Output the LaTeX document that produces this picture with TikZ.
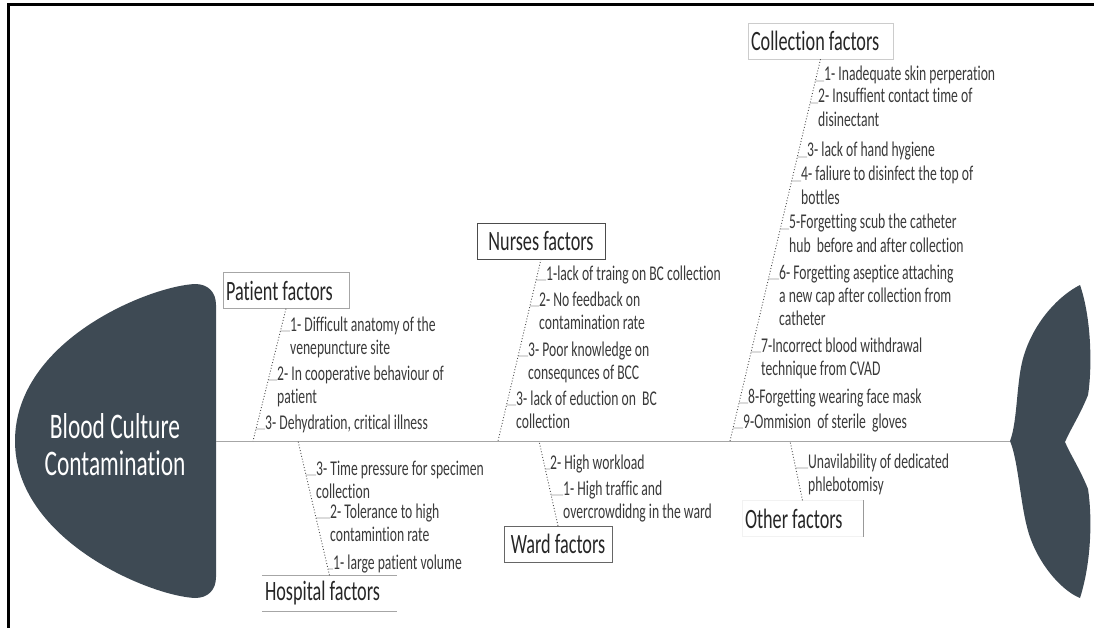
\documentclass[tikz,border=0pt]{standalone}
\usepackage{fontspec}
\setmainfont[FakeStretch=0.65, Ligatures=NoCommon]{Carlito}

\definecolor{fishdark}{HTML}{3E4A54}
\definecolor{inkgray}{HTML}{3A3A3A}
\newcommand{\causelines}[1]{\begin{tabular}[t]{@{}l@{}}#1\end{tabular}}

\begin{document}
\begin{tikzpicture}[
    x=1pt, y=-1pt,
    catbox/.style={draw=gray!70, fill=white, text=black!85, inner xsep=3pt, inner ysep=0pt, minimum height=36pt, font=\fontsize{28}{30}\selectfont},
    item/.style={anchor=base west, inner sep=0pt, text=inkgray, font=\fontsize{21}{23.5}\selectfont},
    bone/.style={dotted, line width=0.9pt, black!70},
    tick/.style={line width=0.6pt, gray!80},
    spine/.style={line width=1pt, gray!70}
]
    \useasboundingbox (0,0) rectangle (1094,628);

    % Frame
    \draw[line width=3pt] (8,628) -- (8,5) -- (1094,5);

    % Head and tail
    \fill[fishdark] (216,441) -- (216,305) .. controls (216,292) and (208,284) .. (195,284)
        .. controls (150,286) and (15,340) .. (15,441)
        .. controls (15,540) and (150,596) .. (195,598)
        .. controls (208,598) and (216,590) .. (216,577) -- cycle;
    \fill[fishdark] (1010,441) .. controls (1018,420) and (1016,380) .. (1024,355)
        .. controls (1035,320) and (1060,295) .. (1080,285)
        .. controls (1092,320) and (1092,370) .. (1088,395)
        .. controls (1080,415) and (1070,430) .. (1065,442)
        .. controls (1070,454) and (1080,469) .. (1088,489)
        .. controls (1092,515) and (1092,560) .. (1080,598)
        .. controls (1060,590) and (1035,560) .. (1027,527)
        .. controls (1020,500) and (1018,460) .. (1010,441) -- cycle;
    \node[text=white, align=center, font=\fontsize{36}{37}\selectfont] (title) at (115,445) {Blood Culture\\Contamination};

    % Spine
    \coordinate (head) at (216,441);
    \coordinate (tail) at (1010,441);
    \coordinate (sp-pat) at (253,441);
    \coordinate (sp-hos) at (298,441);
    \coordinate (sp-nur) at (498,441);
    \coordinate (sp-war) at (539,441);
    \coordinate (sp-col) at (730,441);
    \coordinate (sp-oth) at (790,441);
    \draw[spine] (head) -- (tail);

    % Category boxes
    \node[catbox, text width=120pt, align=flush left] (patient) at (286,290.5) {Patient factors};
    \node[catbox, text width=122pt, align=flush center, draw=black!70] (nurses) at (541,241) {Nurses factors};
    \node[catbox, text width=139pt, align=flush left, draw=gray!40] (collection) at (820.5,41) {Collection factors};
    \node[catbox, text width=129pt, align=flush left, draw=none] (hospital) at (329.5,593.5) {Hospital factors};
    \node[catbox, text width=102pt, align=flush center, draw=black!60] (ward) at (558,544) {Ward factors};
    \node[catbox, text width=115pt, align=flush left, draw=gray!10] (other) at (802.5,518.5) {Other factors};
    \draw[gray!70, line width=1pt] (hospital.north west) -- (hospital.north east);
    \draw[gray!70, line width=1pt] (hospital.south west) -- (hospital.south east);
    \draw[gray!80, line width=1pt] (other.north east) -- (other.south east);

    % Causes
    \node[item] (p1) at (290,331) {\causelines{1- Difficult anatomy of the\\venepuncture site}};
    \node[item] (p2) at (277,380) {\causelines{2- In cooperative behaviour of\\patient}};
    \node[item] (p3) at (265,429) {3- Dehydration, critical illness};

    \node[item] (n1) at (546,280) {1-lack of traing on BC collection};
    \node[item] (n2) at (539,306) {\causelines{2- No feedback on\\contamination rate}};
    \node[item] (n3) at (528,356) {\causelines{3- Poor knowledge on\\consequnces of BCC}};
    \node[item] (n4) at (516,405) {\causelines{3- lack of eduction on~~BC\\collection}};

    \node[item] (c1) at (824,81) {1- Inadequate skin perperation};
    \node[item] (c2) at (818,103) {\causelines{2- Insuffient contact time of\\disinectant}};
    \node[item] (c3) at (807,157) {3- lack of hand hygiene};
    \node[item] (c4) at (801,181) {\causelines{4- faliure to disinfect the top of\\bottles}};
    \node[item] (c5) at (789,229) {\causelines{5-Forgetting scub the catheter\\hub~~before and after collection}};
    \node[item] (c6) at (779,279) {\causelines{6- Forgetting aseptice attaching\\a new cap after collection from\\catheter}};
    \node[item] (c7) at (761,352) {\causelines{7-Incorrect blood withdrawal\\technique from CVAD}};
    \node[item] (c8) at (748,403) {8-Forgetting wearing face mask};
    \node[item] (c9) at (743,428) {9-Ommision~~of sterile~~gloves};

    \node[item] (h3) at (316,475) {\causelines{3- Time pressure for specimen\\collection}};
    \node[item] (h2) at (330,518) {\causelines{2- Tolerance to high\\contamintion rate}};
    \node[item] (h1) at (333,569) {1- large patient volume};

    \node[item] (w2) at (550,469) {2- High workload};
    \node[item] (w1) at (563,495) {\causelines{1- High traffic and\\overcrowdidng in the ward}};

    \node[item] (o1) at (808,468) {\causelines{Unavilability of dedicated\\phlebotomisy}};

    % Bones
    \draw[bone] (patient.south) -- (sp-pat);
    \draw[bone] (nurses.south) -- (sp-nur);
    \draw[bone] (collection.south) -- (sp-col);
    \draw[bone] (hospital.north) -- (sp-hos);
    \draw[bone] (ward.north) -- (sp-war);
    \draw[bone] (other.north) -- (sp-oth);

    % Ticks
    \foreach \i in {p1,p2,p3}
        \draw[tick] (intersection of patient.south--sp-pat and \i.base west--\i.base east) -- (\i.base west);
    \foreach \i in {n1,n2,n3,n4}
        \draw[tick] (intersection of nurses.south--sp-nur and \i.base west--\i.base east) -- (\i.base west);
    \foreach \i in {c1,c2,c3,c4,c5,c6,c7,c8,c9}
        \draw[tick] (intersection of collection.south--sp-col and \i.base west--\i.base east) -- (\i.base west);
    \foreach \i in {h1,h2,h3}
        \draw[tick] (intersection of hospital.north--sp-hos and \i.base west--\i.base east) -- (\i.base west);
    \foreach \i in {w1,w2}
        \draw[tick] (intersection of ward.north--sp-war and \i.base west--\i.base east) -- (\i.base west);
    \draw[tick] (intersection of other.north--sp-oth and o1.base west--o1.base east) -- (o1.base west);
\end{tikzpicture}
\end{document}
